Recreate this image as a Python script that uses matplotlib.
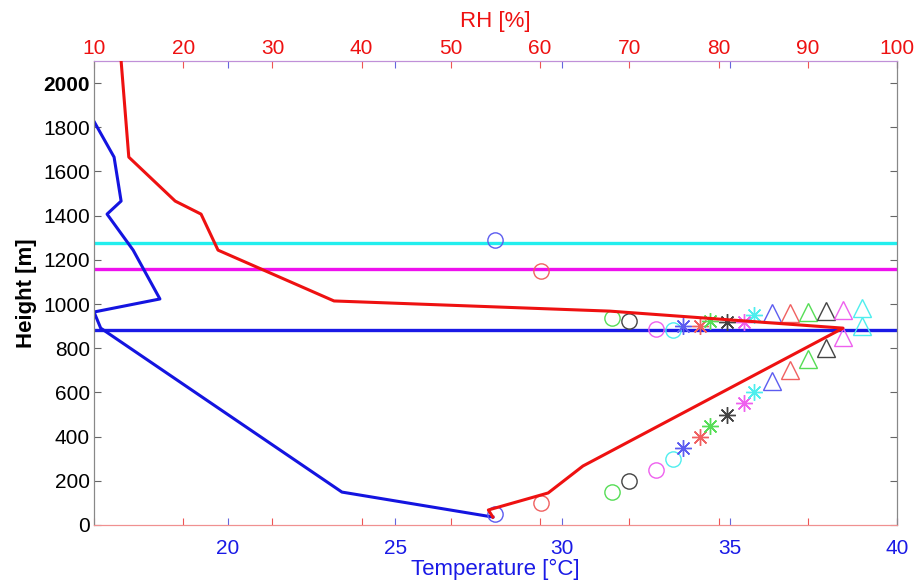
import matplotlib
matplotlib.use("Agg")
import matplotlib.pyplot as plt

plt.rcParams['font.family'] = ['Liberation Sans', 'DejaVu Sans']

## Data

# temperature profile (blue), bottom axis
temp = [15.95, 16.60, 16.81, 16.39, 17.17, 17.97, 16.0, 16.2, 23.41, 27.92]
temp_h = [1840, 1665, 1466, 1407, 1244, 1023, 964, 891, 149, 36]

# relative humidity profile (red), top axis
rh = [13.0, 13.9, 19.1, 22.0, 23.9, 36.9, 67.8, 93.95, 64.8, 60.9, 54.2, 54.7]
rh_h = [2120, 1665, 1466, 1407, 1244, 1014, 968, 891, 267, 145, 68, 36]

# horizontal levels
levels = [1276, 1158, 882]
level_colors = ["#22eeee", "#ee10ee", "#1a1ae6"]

# surface temperature markers
mark_t = [27.98, 29.36, 31.48, 31.99, 32.80, 33.30, 33.60, 34.11, 34.41,
          34.92, 35.43, 35.73, 36.26, 36.80, 37.34, 37.88, 38.38, 38.95]
mark_h_low = [50, 100, 150, 200, 250, 300, 350, 400, 450,
              500, 550, 600, 650, 700, 750, 800, 850, 900]
mark_h_up = [1290, 1149, 937, 923, 887, 882, 900, 900, 923,
             918, 918, 950, 959, 959, 964, 968, 973, 982]
mark_colors = ["#5c5cf0", "#f06060", "#55dd55", "#444444", "#ee60ee", "#4eeeee"] * 3
mark_shapes = ["o"] * 6 + [(8, 2, 0)] * 6 + ["^"] * 6
mark_sizes = [11] * 6 + [12] * 6 + [13] * 6

t_ticks = [20, 25, 30, 35, 40]
rh_ticks = [10, 20, 30, 40, 50, 60, 70, 80, 90, 100]
h_ticks = list(range(0, 2001, 200))

## Figure

fig = plt.figure(figsize=(9.18, 5.8), dpi=100)
ax = fig.add_axes([94/918, 55/580, 803/918, 464/580])
ax2 = ax.twiny()

for y, c in zip(levels, level_colors):
    ax.axhline(y, color=c, lw=2.4, zorder=2)

ax.plot(temp, temp_h, color="#1414e0", lw=2.2, zorder=3)
ax2.plot(rh, rh_h, color="#ee1111", lw=2.2, zorder=3)

for t, hl, hu, c, m, s in zip(mark_t, mark_h_low, mark_h_up, mark_colors, mark_shapes, mark_sizes):
    for hh in (hl, hu):
        ax.plot([t], [hh], linestyle="none", marker=m, ms=s, mfc="none",
                mec=c, mew=1.0, zorder=4)

ax.set_xlim(16, 40)
ax2.set_xlim(10, 100)
ax.set_ylim(0, 2100)

ax.set_xticks(t_ticks)
ax2.set_xticks(rh_ticks)
ax.set_yticks(h_ticks)

ax.xaxis.set_ticks_position("both")
ax.tick_params(axis="x", which="both", direction="in", length=5, color="#6666dd",
               labelcolor="#1a1ae6", labelsize=15, top=True, labeltop=False, pad=10)
ax2.tick_params(axis="x", direction="in", length=5, color="#ee5555",
                labelcolor="#ee1111", labelsize=15, bottom=True, labelbottom=False, pad=2)
ax.tick_params(axis="y", direction="in", length=5, color="#666666", right=True,
               labelsize=15, labelcolor="black", pad=3)

for lab in ax.get_yticklabels():
    if lab.get_text() == "2000":
        lab.set_fontweight("bold")

for a in (ax, ax2):
    a.spines["left"].set_color("#888888")
    a.spines["right"].set_color("#888888")
    a.spines["bottom"].set_color("#f09090")
    a.spines["top"].set_color("#c090d8")

ax.set_xlabel("Temperature [°C]", color="#1a1ae6", fontsize=16, labelpad=1)
ax2.set_xlabel("RH [%]", color="#ee1111", fontsize=16, labelpad=9)
ax.set_ylabel("Height [m]", fontsize=16, fontweight="bold", labelpad=4)

plt.savefig("out.png", dpi=100)
